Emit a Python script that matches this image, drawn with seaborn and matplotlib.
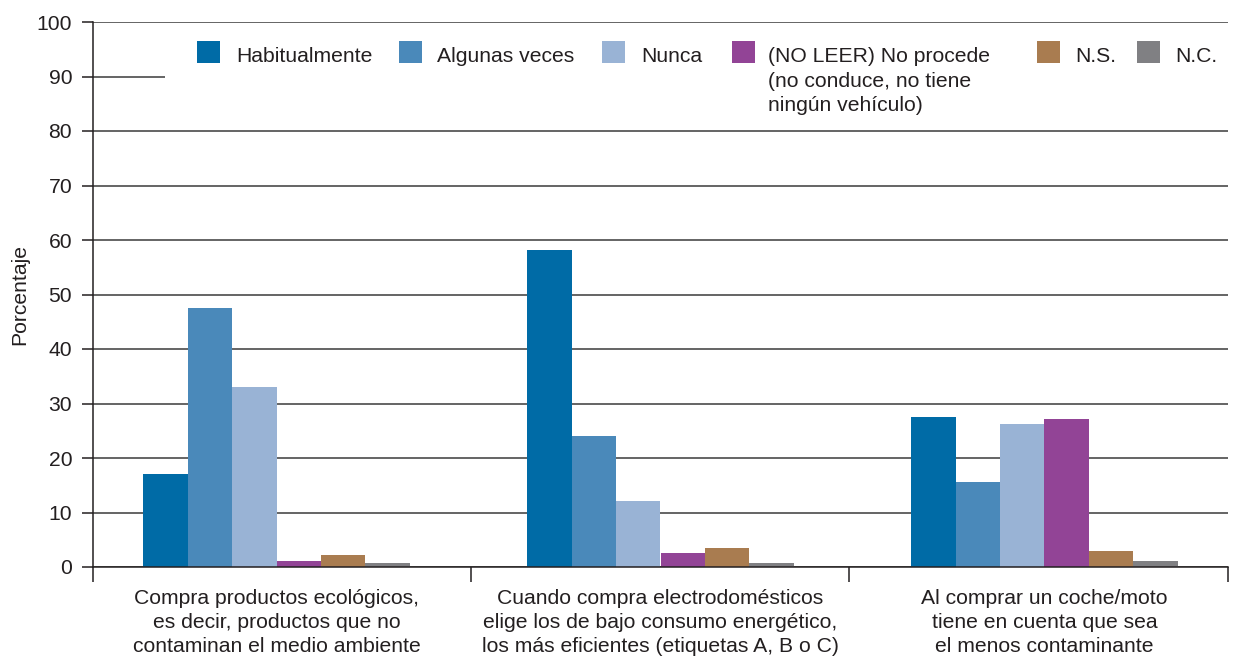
import numpy as np
import pandas as pd
import matplotlib
matplotlib.use("Agg")
import matplotlib.pyplot as plt
import seaborn as sns
from matplotlib.patches import Rectangle

categorias = [
    "Compra productos ecológicos,\nes decir, productos que no\ncontaminan el medio ambiente",
    "Cuando compra electrodomésticos\nelige los de bajo consumo energético,\nlos más eficientes (etiquetas A, B o C)",
    "Al comprar un coche/moto\ntiene en cuenta que sea\nel menos contaminante",
]
series = [
    "Habitualmente",
    "Algunas veces",
    "Nunca",
    "(NO LEER) No procede\n(no conduce, no tiene\nningún vehículo)",
    "N.S.",
    "N.C.",
]
habitualmente = [17.0, 58.1, 27.6]
algunas_veces = [47.6, 24.0, 15.6]
nunca = [33.0, 12.1, 26.2]
no_procede = [1.1, 2.5, 27.1]
ns = [2.2, 3.4, 2.9]
nc = [0.7, 0.7, 1.1]
colores = ["#006ba6", "#4a89ba", "#99b3d5", "#924496", "#a97c50", "#808083"]

valores = [habitualmente, algunas_veces, nunca, no_procede, ns, nc]
filas = []
for s, vals in zip(series, valores):
    for c, v in zip(categorias, vals):
        filas.append({"categoria": c, "serie": s, "valor": v})
df = pd.DataFrame(filas)

W, H = 1239, 660
TXT = "#231f20"
FS = 15.2
sns.set_theme(style="white")
plt.rcParams["font.family"] = ["Liberation Sans", "DejaVu Sans"]
plt.rcParams["text.color"] = TXT

fig = plt.figure(figsize=(W / 100, H / 100), dpi=100)
ax = fig.add_axes([93 / W, 1 - 567 / H, (1228 - 93) / W, (567 - 22) / H])

sns.barplot(data=df, x="categoria", y="valor", hue="serie", order=categorias,
            hue_order=series, palette=colores, saturation=1, width=0.695,
            linewidth=0, legend=False, ax=ax)

x0, x1 = -0.478, 2.478
ax.set_xlim(x0, x1)
ax.set_ylim(0, 100)
ax.set_yticks(np.arange(0, 101, 10))
ax.set_axisbelow(True)
ax.yaxis.grid(True, color="#3a3a3a", linewidth=1.1)
ax.xaxis.grid(False)

for side in ["top", "right"]:
    ax.spines[side].set_visible(False)
for side in ["left", "bottom"]:
    ax.spines[side].set_color(TXT)
    ax.spines[side].set_linewidth(1.1)

ax.tick_params(axis="y", which="major", direction="out", length=8, width=1.1,
               color=TXT, labelsize=FS, labelcolor=TXT, pad=7, left=True)
ax.set_xticks([0, 1, 2])
ax.set_xticklabels([])
ax.tick_params(axis="x", which="major", length=0)
# separadores entre grupos
ax.set_xticks([x0, 0.5065, 1.491, x1], minor=True)
ax.tick_params(axis="x", which="minor", direction="out", length=11, width=1.1,
               color=TXT, bottom=True)

ax.set_xlabel("")
ax.set_ylabel("Porcentaje", fontsize=FS, color=TXT, labelpad=5)

for i, c in enumerate(categorias):
    ax.text(i, -4.0, c, ha="center", va="top", fontsize=FS, color=TXT,
            linespacing=1.35, clip_on=False)

# caja blanca de la leyenda, tapa las lineas de la cuadricula
ax.add_patch(Rectangle((-0.29, 81.8), 2.8, 16.6, facecolor="white",
                       edgecolor="none", zorder=1.5))


def fx(px):
    return px / W


def fy(py):
    return 1 - py / H


sw_x = [197, 399, 602, 732, 1037, 1137]
tx_x = [236, 437, 641, 768, 1075, 1175]
for s, col, xs, xt in zip(series, colores, sw_x, tx_x):
    fig.patches.append(Rectangle((fx(xs), fy(63)), 23 / W, 22 / H,
                                 facecolor=col, edgecolor="none",
                                 transform=fig.transFigure, figure=fig))
    fig.text(fx(xt), fy(47.5), s, ha="left", va="top", fontsize=FS,
             color=TXT, linespacing=1.35)

fig.savefig("out.png", dpi=100)
